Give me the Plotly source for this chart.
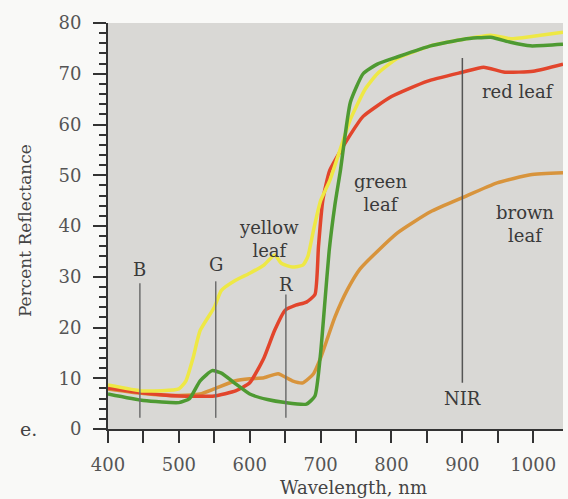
import plotly.graph_objects as go

# ---------------- data ----------------
green_wl = [400, 450, 500, 515, 530, 547, 560, 580, 600, 625, 650, 680, 692, 700, 706, 712, 720, 728, 742, 760, 780, 808, 855, 902, 940, 968, 996, 1042]
green_val = [6.9, 5.6, 5.2, 6.0, 9.5, 11.5, 11.0, 8.9, 6.9, 5.8, 5.2, 4.9, 6.5, 15, 25, 35, 44, 51, 64.4, 70, 71.9, 73.3, 75.5, 76.8, 77.2, 76.2, 75.5, 75.8]

yellow_wl = [400, 450, 500, 510, 520, 530, 550, 560, 580, 600, 620, 635, 645, 660, 675, 682, 690, 700, 713, 742, 763, 780, 808, 855, 902, 940, 968, 1000, 1042]
yellow_val = [8.7, 7.5, 7.9, 9.5, 14, 19.4, 24, 27.3, 29.3, 30.7, 32.3, 34.3, 32.6, 31.9, 32.3, 34, 39.2, 45, 49, 61, 67, 70, 73, 75.5, 76.8, 77.6, 76.9, 77.4, 78.2]

red_wl = [400, 450, 500, 550, 580, 600, 620, 635, 650, 665, 680, 692, 697, 703, 713, 742, 760, 800, 850, 900, 930, 960, 1000, 1042]
red_val = [8.1, 7.1, 6.5, 6.5, 7.5, 9.1, 14, 19.4, 23.4, 24.4, 25, 26.5, 36, 45, 51, 58, 61.6, 65.5, 68.5, 70.3, 71.3, 70.3, 70.5, 71.9]

brown_wl = [400, 450, 500, 530, 550, 580, 600, 620, 640, 660, 675, 690, 700, 710, 720, 738, 756, 808, 855, 902, 949, 996, 1042]
brown_val = [7.9, 7.0, 6.6, 6.9, 7.9, 9.5, 9.9, 10.1, 10.9, 9.5, 9.1, 10.9, 14, 18, 22, 27.5, 31.6, 38.6, 42.8, 45.7, 48.5, 50.1, 50.5]

band_names = ["B", "G", "R", "NIR"]
band_x = [445, 552, 651, 900]
band_y0 = [2.2, 2.2, 2.2, 9.1]
band_y1 = [28.7, 29.1, 26.5, 73.1]
band_label_y = [31.5, 32.5, 28.5, 6.0]

leaf_labels = ["yellow<br>leaf", "green<br>leaf", "red leaf", "brown<br>leaf"]
leaf_label_x = [627, 784, 978, 989]
leaf_label_y = [37.5, 46.6, 66.5, 40.4]

x_tick_vals = [400, 500, 600, 700, 800, 900, 1000]
y_tick_vals = [0, 10, 20, 30, 40, 50, 60, 70, 80]

# ---------------- figure ----------------
FONT = "DejaVu Serif"
fig = go.Figure()

series = [
    (brown_wl, brown_val, "#d8943c"),
    (red_wl, red_val, "#e2452c"),
    (yellow_wl, yellow_val, "#eee845"),
    (green_wl, green_val, "#4e9a32"),
]
for wl, val, col in series:
    fig.add_trace(go.Scatter(x=wl, y=val, mode="lines",
                             line=dict(color=col, width=3.5, shape="spline", smoothing=0.5),
                             hoverinfo="skip", showlegend=False))

for i, name in enumerate(band_names):
    fig.add_shape(type="line", x0=band_x[i], x1=band_x[i], y0=band_y0[i], y1=band_y1[i],
                  xref="x", yref="y",
                  line=dict(color="#6e6e6e" if name != "NIR" else "#555555", width=1.5))
    fig.add_annotation(x=band_x[i], y=band_label_y[i], text=name, showarrow=False,
                       font=dict(family=FONT, size=18, color="#3a3a3a"))

for i, t in enumerate(leaf_labels):
    fig.add_annotation(x=leaf_label_x[i], y=leaf_label_y[i], text=t, showarrow=False,
                       font=dict(family=FONT, size=18, color="#3a3a3a"))

# axis titles as annotations
fig.add_annotation(x=746, y=0, xref="x", yref="y", yanchor="top", yshift=-46,
                   text="Wavelength, nm", showarrow=False,
                   font=dict(family=FONT, size=18, color="#444444"))
fig.add_annotation(x=0, y=39, xref="paper", yref="y", xshift=-83, xanchor="center",
                   text="Percent Reflectance", textangle=-90, showarrow=False,
                   font=dict(family=FONT, size=17, color="#444444"))
fig.add_annotation(x=0, y=0, xref="paper", yref="y", xshift=-80, xanchor="center",
                   text="e.", showarrow=False,
                   font=dict(family=FONT, size=19, color="#444444"))

fig.update_layout(
    width=568, height=499,
    margin=dict(l=108, r=5, t=23, b=70),
    paper_bgcolor="#f9f9f7",
    plot_bgcolor="#d9d8d5",
    font=dict(family=FONT, size=18, color="#555555"),
    xaxis=dict(range=[400, 1042], tickvals=x_tick_vals, ticks="outside", ticklen=12,
               tickwidth=1.5, tickcolor="#333333", showline=True, linecolor="#333333",
               linewidth=2, showgrid=False, zeroline=False, ticklabelstandoff=6,
               minor=dict(dtick=50, tick0=400, ticks="outside", ticklen=12, tickwidth=1.5,
                          tickcolor="#333333", showgrid=False),
               tickfont=dict(family=FONT, size=18, color="#555555")),
    yaxis=dict(range=[0, 80], tickvals=y_tick_vals, ticks="outside", ticklen=13,
               tickwidth=1.5, tickcolor="#333333", showline=True, linecolor="#333333",
               linewidth=2, showgrid=False, zeroline=False, ticklabelstandoff=8,
               minor=dict(dtick=2, tick0=0, ticks="outside", ticklen=7, tickwidth=1.5,
                          tickcolor="#333333", showgrid=False),
               tickfont=dict(family=FONT, size=18, color="#555555")),
)

fig.write_html("out.html", config={"displayModeBar": False},
               post_script="document.body.style.margin='0';document.body.style.overflow='hidden';")
